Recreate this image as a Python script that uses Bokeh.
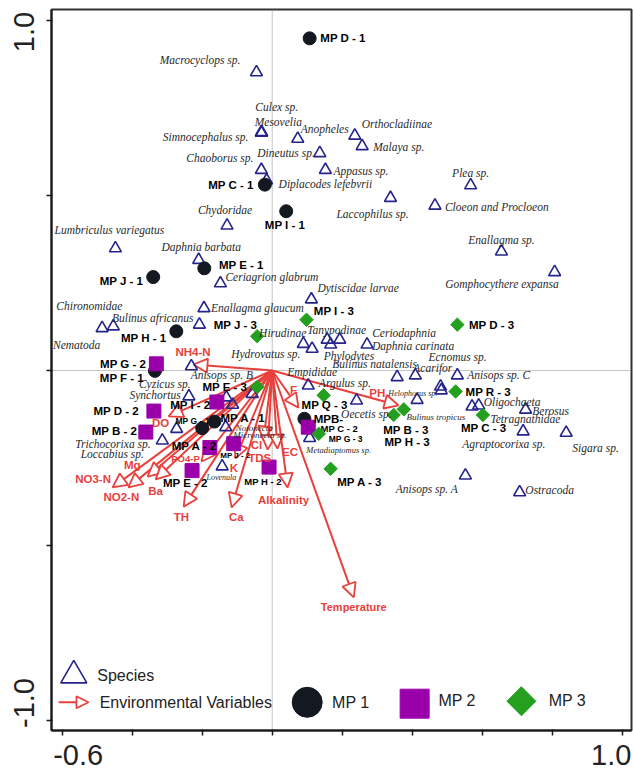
import math
from bokeh.plotting import figure
from bokeh.models import (ColumnDataSource, Span, Arrow, NormalHead, Label,
                          FixedTicker, LinearAxis)
from bokeh.core.properties import value
from bokeh.embed import file_html
from bokeh.resources import INLINE

# ---------------- CCA scores (axis 1, axis 2) ----------------
species = [
    "Macrocyclops sp.", "Culex sp.", "Mesovelia", "Simnocephalus sp.", "Anopheles",
    "Orthocladiinae", "Malaya sp.", "Dineutus sp.", "Chaoborus sp.", "Appasus sp.",
    "Diplacodes lefebvrii", "Plea sp.", "Laccophilus sp.", "Cloeon and Procloeon",
    "Chydoridae", "Lumbriculus variegatus", "Daphnia barbata", "Ceriagrion glabrum",
    "Enallagma sp.", "Gomphocythere expansa", "Dytiscidae larvae", "Chironomidae",
    "Nematoda", "Enallagma glaucum", "Bulinus africanus", "Hirudinae", "Hydrovatus sp.",
    "Tanypodinae", "Phylodytes", "Ceriodaphnia", "Daphnia carinata", "Bulinus natalensis",
    "Acarifor", "Ecnomus sp.", "Anisops sp. C", "Empididae", "Argulus sp.", "Cyzicus sp.",
    "Anisops sp. B", "Synchortus", "Trichocorixa sp.", "Loccabius sp.", "Notonecta",
    "Micronecta sp.", "Lovenula", "Metadiaptomus sp.", "Oecetis sp.", "Helophorus sp.",
    "Bulinus tropicus", "Oligochaeta", "Tetragnathidae", "Berosus", "Agraptocorixa sp.",
    "Sigara sp.", "Anisops sp. A", "Ostracoda",
]
species_ax1 = [
    -0.045, -0.031, -0.030, -0.031, 0.073, 0.236, 0.257, 0.136, -0.031, 0.152,
    -0.016, 0.567, 0.338, 0.465, -0.129, -0.448, -0.210, -0.148, 0.655, 0.807,
    0.112, -0.454, -0.486, -0.195, -0.208, 0.089, 0.114, 0.157, 0.167, 0.193,
    0.271, 0.357, 0.409, 0.481, 0.529, -0.057, 0.103, -0.131, -0.231, -0.238,
    -0.314, -0.273, -0.133, -0.113, -0.143, 0.107, 0.241, 0.483, 0.414, 0.571,
    0.590, 0.724, 0.717, 0.840, 0.552, 0.707,
]
species_ax2 = [
    0.852, 0.681, 0.680, 0.679, 0.662, 0.671, 0.641, 0.621, 0.573, 0.573,
    0.543, 0.529, 0.493, 0.471, 0.414, 0.349, 0.316, 0.249, 0.340, 0.281,
    0.203, 0.126, 0.121, 0.178, 0.131, 0.076, 0.062, 0.088, 0.074, 0.088,
    0.074, -0.019, -0.014, -0.046, -0.014, -0.067, -0.043, -0.077, 0.012, -0.074,
    -0.200, -0.167, -0.162, -0.098, -0.274, -0.193, -0.086, -0.057, -0.084, -0.103,
    -0.100, -0.112, -0.174, -0.178, -0.300, -0.348,
]

mp1_sites = ["MP D - 1", "MP C - 1", "MP I - 1", "MP E - 1", "MP J - 1",
             "MP H - 1", "MP F - 1", "MP G - 1", "MP A - 1", "MPB-"]
mp1_ax1 = [0.107, -0.021, 0.040, -0.194, -0.340, -0.274, -0.335, -0.200, -0.165, 0.092]
mp1_ax2 = [0.949, 0.531, 0.455, 0.292, 0.267, 0.112, -0.001, -0.165, -0.146, -0.138]

mp2_sites = ["MP G - 2", "MP D - 2", "MP B - 2", "MP I - 2", "MP A - 2",
             "MP J - 2", "MP E - 2", "MP H - 2", "MP C - 2"]
mp2_ax1 = [-0.331, -0.338, -0.361, -0.158, -0.178, -0.110, -0.229, -0.009, 0.103]
mp2_ax2 = [0.019, -0.116, -0.176, -0.090, -0.220, -0.209, -0.286, -0.276, -0.162]

mp3_sites = ["MP I - 3", "MP J - 3", "MP D - 3", "MP E - 3", "MP Q - 3", "MP R - 3",
             "MP B - 3", "MP H - 3", "MP C - 3", "MP G - 3", "MP A - 3"]
mp3_ax1 = [0.098, -0.043, 0.529, -0.043, 0.147, 0.524, 0.347, 0.376, 0.602, 0.133, 0.167]
mp3_ax2 = [0.145, 0.098, 0.131, -0.047, -0.071, -0.060, -0.127, -0.111, -0.127, -0.181, -0.281]

env_vars = ["NH4-N", "DO", "NO3-N", "NO2-N", "Mg", "Ba", "PO4-P", "TH", "Ca", "K",
            "Cl", "TDS", "EC", "Alkalinity", "F", "PH", "Temperature"]
env_ax1 = [-0.225, -0.296, -0.456, -0.411, -0.356, -0.333, -0.202, -0.253, -0.116,
           -0.105, -0.025, -0.013, 0.015, 0.044, 0.075, 0.361, 0.233]
env_ax2 = [0.017, -0.131, -0.334, -0.334, -0.303, -0.311, -0.260, -0.389, -0.391,
           -0.251, -0.200, -0.226, -0.223, -0.334, -0.106, -0.100, -0.648]

x_ticks = [-0.6, -0.4, -0.2, 0.0, 0.2, 0.4, 0.6, 0.8, 1.0]
y_ticks = [-1.0, -0.5, 0.0, 0.5, 1.0]
x_tick_labels = {-0.6: "-0.6", 1.0: "1.0"}
y_tick_labels = {1.0: "1.0", -1.0: "-1.0"}

# end labels are set inward from their ticks (pixels; +x right, +y up)
X_LABEL_SHIFT = {-0.6: 16, 1.0: -11}
Y_LABEL_SHIFT = {1.0: -11.5, -1.0: 17.5}

# ---------------- label placement (align, dx px, dy px [down], font px) ----------------
SPECIES_LAYOUT = {
    "Macrocyclops sp.": ("right", -16, -12), "Culex sp.": ("left", -6, -25),
    "Mesovelia": ("left", -7, -10), "Simnocephalus sp.": ("right", -13, 4),
    "Anopheles": ("left", 3, -10), "Orthocladiinae": ("left", 7, -12),
    "Malaya sp.": ("left", 11, 1), "Dineutus sp.": ("right", -5, 0),
    "Chaoborus sp.": ("right", -8, -12), "Appasus sp.": ("left", 8, 1),
    "Diplacodes lefebvrii": ("left", 12, 4), "Plea sp.": ("center", 0, -12),
    "Laccophilus sp.": ("center", -18, 16.5), "Cloeon and Procloeon": ("left", 10, 1),
    "Chydoridae": ("center", -2, -16), "Lumbriculus variegatus": ("center", -6, -18),
    "Daphnia barbata": ("center", 2.5, -13), "Ceriagrion glabrum": ("left", 5, -6),
    "Enallagma sp.": ("center", 0, -11), "Gomphocythere expansa": ("center", -52.6, 11.6),
    "Dytiscidae larvae": ("left", 6, -11), "Chironomidae": ("center", -24, -20),
    "Nematoda": ("center", -25.5, 16.6), "Enallagma glaucum": ("left", 7, 0),
    "Bulinus africanus": ("right", -6, -7), "Hirudinae": ("right", 3, -10.6),
    "Hydrovatus sp.": ("right", -11.7, 5), "Tanypodinae": ("left", -20, -10),
    "Phylodytes": ("left", -7, 11.7), "Ceriodaphnia": ("left", 32.4, -7),
    "Daphnia carinata": ("left", 5, 1.7), "Bulinus natalensis": ("center", -22.5, -13.4),
    "Acarifor": ("left", -2, -7.3), "Ecnomus sp.": ("left", -12, -29.3),
    "Anisops sp. C": ("left", 10, 0), "Empididae": ("left", 35, -21.6),
    "Argulus sp.": ("left", 10.6, -2.3), "Cyzicus sp.": ("right", -35.7, -13),
    "Anisops sp. B": ("left", -0.7, 8.3), "Synchortus": ("right", -8.3, -1.7),
    "Trichocorixa sp.": ("right", -11.7, 4), "Loccabius sp.": ("right", -32.7, 25),
    "Notonecta": ("left", 10, 1, 9), "Micronecta sp.": ("left", 0.7, 30, 9),
    "Lovenula": ("center", -0.8, 10.7, 8), "Metadiaptomus sp.": ("left", -3.3, 11.6, 8.5),
    "Oecetis sp.": ("center", 9.8, 13.3), "Helophorus sp.": ("right", -4, 2.7, 8),
    "Bulinus tropicus": ("left", -10.7, 16.7, 9), "Oligochaeta": ("left", 11.6, -5),
    "Tetragnathidae": ("left", 11.7, 13.3), "Berosus": ("left", 6.7, 1.7),
    "Agraptocorixa sp.": ("center", -19.4, 12.3), "Sigara sp.": ("left", 6, 15),
    "Anisops sp. A": ("right", -7.3, 14), "Ostracoda": ("left", 5.7, -2.7),
}
SITE_LAYOUT = {
    "MP D - 1": ("left", 10.7, 0), "MP C - 1": ("right", -11.3, 0),
    "MP I - 1": ("center", -1.2, 13.3), "MP E - 1": ("left", 14.6, -3.7),
    "MP J - 1": ("right", -10, 4), "MP H - 1": ("right", -10, 7),
    "MP F - 1": ("right", -11, 6.7), "MP G - 1": ("left", -26.7, -7, 8.5),
    "MP A - 1": ("left", 6, -3.3), "MPB-": ("left", 9.3, 0),
    "MP G - 2": ("right", -10.3, 0), "MP D - 2": ("right", -15, 0),
    "MP B - 2": ("right", -8.8, -1.5), "MP I - 2": ("right", -6.5, 3.5),
    "MP A - 2": ("right", 7.2, -1), "MP J - 2": ("center", 1.7, 11.7, 8),
    "MP E - 2": ("center", -6.7, 12.3), "MP H - 2": ("center", -6, 14.3, 9.5),
    "MP C - 2": ("left", 12.3, 1, 9.5),
    "MP I - 3": ("left", 7.3, -8.3), "MP J - 3": ("right", 0, -11.4),
    "MP D - 3": ("left", 11.6, 0.7), "MP E - 3": ("right", -10, 0),
    "MP Q - 3": ("center", 0.9, 9.3), "MP R - 3": ("left", 10, 0.7),
    "MP B - 3": ("center", 12.2, 15), "MP H - 3": ("center", 3.3, 32.7),
    "MP C - 3": ("center", 0.7, 13.4), "MP G - 3": ("left", 10, 5, 8.5),
    "MP A - 3": ("center", 29.2, 13.4),
}
ENV_LAYOUT = {
    "NH4-N": ("center", -0.5, -12.3), "DO": ("center", -8, 7),
    "NO3-N": ("center", -19.5, -8), "NO2-N": ("center", -7, 9.7),
    "Mg": ("center", -15.3, -11.7), "Ba": ("center", 0, 11.7),
    "PO4-P": ("center", -16, -2.7, 9.5), "TH": ("center", -2.2, 10.7),
    "Ca": ("center", 4.8, 10), "K": ("center", -1.6, 10),
    "Cl": ("center", -7, 5), "TDS": ("center", -8, 8),
    "EC": ("center", 12.5, 3), "Alkalinity": ("center", -4, 12.3),
    "F": ("center", -5, -18), "PH": ("center", -21.3, -12.3),
    "Temperature": ("center", 0, 10, 11),
}

RED = "#e8403c"
NAVY = "#24248c"
BLACK = "#141820"
PURPLE = "#9a00aa"
GREEN = "#24a01e"

X0, X1 = -0.6306, 1.0266
Y0, Y1 = -1.0286, 1.0314
W, H = 633, 772
MB_L, MB_R, MB_T, MB_B = 51, 2, 9, 42
PX = (W - MB_L - MB_R) / (X1 - X0)   # pixels per unit, same on both axes


def label_groups(names, xs, ys, layout, default_size):
    groups = {}
    for n, x, y in zip(names, xs, ys):
        spec = layout[n]
        align, dx, dy = spec[:3]
        size = spec[3] if len(spec) > 3 else default_size
        g = groups.setdefault((align, size), {"x": [], "y": [], "text": []})
        g["x"].append(x + dx / PX)
        g["y"].append(y - dy / PX)
        g["text"].append(n)
    return groups


p = figure(width=W, height=H, x_range=(X0, X1), y_range=(Y0, Y1),
           output_backend="svg", toolbar_location=None,
           min_border_left=MB_L, min_border_right=MB_R,
           min_border_top=MB_T, min_border_bottom=MB_B)
p.grid.visible = False
p.background_fill_color = "white"
p.border_fill_color = "white"
p.outline_line_color = "#333333"
p.outline_line_width = 2

# tick-mark axes (unlabelled)
p.xaxis.ticker = FixedTicker(ticks=x_ticks, minor_ticks=[])
p.yaxis.ticker = FixedTicker(ticks=y_ticks, minor_ticks=[])
p.xaxis.major_label_overrides = {t: "" for t in x_ticks}
p.yaxis.major_label_overrides = {t: "" for t in y_ticks}
for ax in (p.xaxis, p.yaxis):
    ax.axis_line_width = 2
    ax.axis_line_color = "#1a1a1a"
    ax.major_tick_line_color = "#1a1a1a"
    ax.major_tick_line_width = 1.5
    ax.major_tick_out = 5
    ax.major_tick_in = 1
    ax.major_label_standoff = 0
    ax.major_label_text_font_size = "0px"

# value-label axes: only the two end values, nudged inward from their ticks
xlab_pos = {round(t + X_LABEL_SHIFT[t] / PX, 4): s for t, s in x_tick_labels.items()}
ylab_pos = {round(t + Y_LABEL_SHIFT[t] / PX, 4): s for t, s in y_tick_labels.items()}
lab_style = dict(axis_line_color=None, major_tick_line_color=None,
                 major_tick_out=0, major_tick_in=0,
                 major_label_text_font="Liberation Sans",
                 major_label_text_font_size="29px",
                 major_label_text_color="#222222")
xlab_axis = LinearAxis(ticker=FixedTicker(ticks=list(xlab_pos), minor_ticks=[]),
                       major_label_overrides=xlab_pos, major_label_standoff=9,
                       major_label_text_line_height=0.6, **lab_style)
ylab_axis = LinearAxis(ticker=FixedTicker(ticks=list(ylab_pos), minor_ticks=[]),
                       major_label_overrides=ylab_pos, major_label_standoff=12,
                       major_label_orientation="vertical", **lab_style)
p.add_layout(xlab_axis, "below")
p.add_layout(ylab_axis, "left")

# origin cross-hairs
for dim in ("width", "height"):
    p.add_layout(Span(location=0, dimension=dim, line_color="#8a8a8a",
                      line_width=1, line_dash="1 1", level="underlay"))

# environmental vectors
env_src = ColumnDataSource(dict(x=env_ax1, y=env_ax2))
p.add_layout(Arrow(x_start=0, y_start=0, x_end="x", y_end="y", source=env_src,
                   line_color=RED, line_width=2, level="underlay",
                   end=NormalHead(size=14, fill_color="white", line_color=RED,
                                  line_width=1.8)))

# species
p.scatter(species_ax1, species_ax2, marker="triangle", size=12,
          fill_alpha=0, line_color=NAVY, line_width=1.6)

# small site labels sit under the markers
site_names = mp1_sites + mp2_sites + mp3_sites
site_x = mp1_ax1 + mp2_ax1 + mp3_ax1
site_y = mp1_ax2 + mp2_ax2 + mp3_ax2
site_groups = label_groups(site_names, site_x, site_y, SITE_LAYOUT, 11.5)
for (align, size), g in site_groups.items():
    if size < 11:
        p.text(x="x", y="y", text="text", source=ColumnDataSource(g),
               text_align=align, text_baseline="middle",
               text_font=value("Liberation Sans"), text_font_style="bold",
               text_font_size=f"{size}px", text_color="black")

# sampling sites
p.scatter(mp1_ax1, mp1_ax2, marker="circle", size=13, fill_color=BLACK, line_color=BLACK)
p.scatter(mp2_ax1, mp2_ax2, marker="square", size=14, fill_color=PURPLE, line_color=PURPLE)
p.scatter(mp3_ax1, mp3_ax2, marker="square", angle=math.pi / 4, size=9.5,
          fill_color=GREEN, line_color=GREEN)

# species labels
for (align, size), g in label_groups(species, species_ax1, species_ax2,
                                     SPECIES_LAYOUT, 11.5).items():
    p.text(x="x", y="y", text="text", source=ColumnDataSource(g),
           text_align=align, text_baseline="middle",
           text_font=value("Liberation Serif"), text_font_style="italic",
           text_font_size=f"{size}px", text_color="#2a2a2a")

# site labels
for (align, size), g in site_groups.items():
    if size >= 11:
        p.text(x="x", y="y", text="text", source=ColumnDataSource(g),
               text_align=align, text_baseline="middle",
               text_font=value("Liberation Sans"), text_font_style="bold",
               text_font_size=f"{size}px", text_color="black")

# environmental labels
for (align, size), g in label_groups(env_vars, env_ax1, env_ax2, ENV_LAYOUT, 11.5).items():
    p.text(x="x", y="y", text="text", source=ColumnDataSource(g),
           text_align=align, text_baseline="middle",
           text_font=value("Liberation Sans"), text_font_style="bold",
           text_font_size=f"{size}px", text_color=RED)

# legend
leg_txt = dict(text_font="Liberation Sans", text_font_size="16px",
               text_color="#222222", text_baseline="middle")
p.scatter([-0.567], [-0.871], marker="triangle", size=26, fill_alpha=0,
          line_color=NAVY, line_width=1.6)
p.add_layout(Label(x=-0.500, y=-0.871, text="Species", **leg_txt))
p.add_layout(Arrow(x_start=-0.610, y_start=-0.948, x_end=-0.525, y_end=-0.948,
                   line_color=RED, line_width=2,
                   end=NormalHead(size=12, fill_color="white", line_color=RED,
                                  line_width=1.8)))
p.add_layout(Label(x=-0.493, y=-0.948, text="Environmental Variables", **leg_txt))
p.scatter([0.100], [-0.948], marker="circle", size=30, fill_color=BLACK, line_color=BLACK)
p.add_layout(Label(x=0.171, y=-0.948, text="MP 1", **leg_txt))
p.scatter([0.407], [-0.952], marker="square", size=29, fill_color=PURPLE, line_color=PURPLE)
p.add_layout(Label(x=0.475, y=-0.943, text="MP 2", **leg_txt))
p.scatter([0.712], [-0.945], marker="square", angle=math.pi / 4, size=20.5,
          fill_color=GREEN, line_color=GREEN)
p.add_layout(Label(x=0.790, y=-0.943, text="MP 3", **leg_txt))

open("out.html", "w").write(file_html(p, INLINE))
